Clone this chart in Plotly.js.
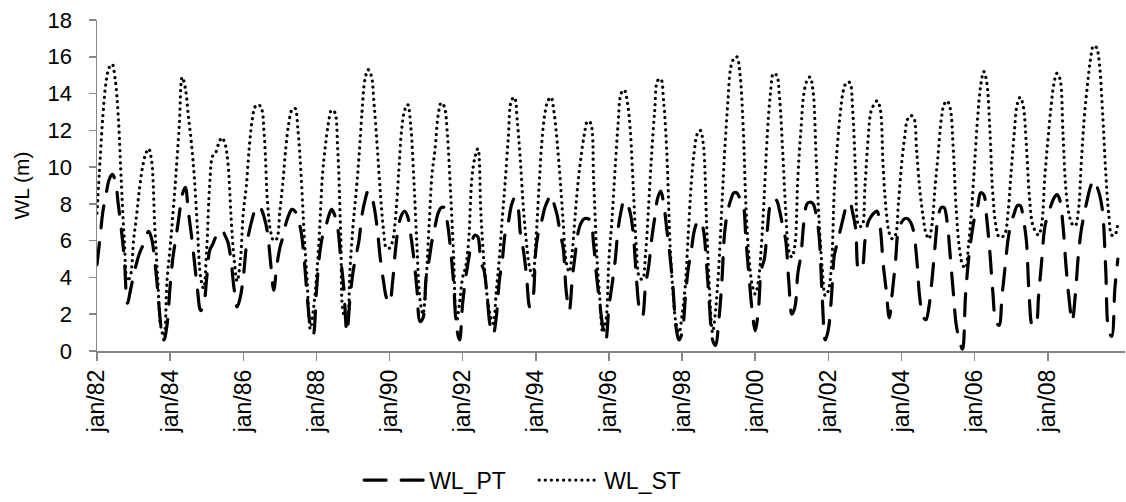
<!DOCTYPE html>
<html><head><meta charset="utf-8">
<script src="https://cdn.plot.ly/plotly-3.0.1.min.js"></script>
<style>
html,body{margin:0;padding:0;background:#fff;}
#chart{width:1126px;height:502px;}
.scatterlayer path.js-line, .legend path.js-line{stroke-linecap:round !important;}
</style>
</head><body><div id="chart"></div>
<script>
const startYear = 1982;
const tickYears = [1982,1984,1986,1988,1990,1992,1994,1996,1998,2000,2002,2004,2006,2008];
const tickLabels = ['jan/82','jan/84','jan/86','jan/88','jan/90','jan/92','jan/94','jan/96','jan/98','jan/00','jan/02','jan/04','jan/06','jan/08'];

// monthly values, Jan 1982 - Dec 2009 (one row per year)
const wlPT = [
4.7,6.2,7.6,8.5,9.3,9.6,9.3,8.0,6.6,5.0,2.6,3.3,
4.1,4.8,5.3,5.7,6.2,6.5,6.1,4.9,3.2,1.4,0.6,1.4,
3.5,5.2,6.2,7.4,8.5,8.9,7.6,6.3,4.8,3.3,2.2,2.5,
4.0,5.5,5.8,6.2,6.4,6.6,6.3,5.9,4.9,3.4,2.4,2.9,
4.0,5.7,6.5,7.2,7.7,7.9,7.7,7.2,6.4,4.8,3.3,4.6,
5.6,6.2,6.9,7.4,7.7,7.6,7.2,6.5,5.0,3.0,1.4,0.9,
3.2,5.2,6.2,6.7,7.3,7.7,7.4,6.7,5.0,3.4,1.0,2.8,
4.3,5.2,6.0,7.4,8.2,8.7,8.5,7.8,6.6,5.0,3.8,2.9,
2.6,3.8,5.5,6.8,7.4,7.6,7.3,6.3,5.0,3.4,1.6,1.8,
4.0,5.0,6.0,6.8,7.5,7.8,7.8,7.0,5.6,3.8,1.3,0.6,
2.6,4.0,5.0,5.9,6.3,6.2,4.8,4.4,3.0,1.4,0.9,1.8,
3.8,5.0,6.4,7.0,7.9,8.3,8.0,6.3,5.4,4.0,2.4,2.8,
5.5,6.6,7.1,7.8,8.2,8.5,8.0,7.4,6.4,5.6,3.2,2.2,
4.0,5.4,6.5,7.0,7.2,7.2,7.1,5.8,4.0,2.6,1.3,0.6,
2.4,3.6,4.8,6.6,7.6,8.2,8.0,7.5,6.3,4.0,2.3,1.9,
3.6,4.6,6.0,7.2,8.3,8.7,8.0,6.6,5.2,3.5,1.3,0.6,
1.0,2.8,4.4,5.4,6.5,7.0,7.1,6.6,4.8,2.5,0.6,0.3,
1.6,3.7,6.4,7.6,8.2,8.6,8.6,8.3,8.0,6.0,4.0,2.2,
1.1,2.2,4.4,5.0,6.6,8.0,8.3,8.2,7.6,6.8,6.0,3.8,
2.0,2.4,4.2,5.2,7.0,8.0,8.1,8.0,7.4,6.2,2.8,0.6,
1.2,3.0,5.2,5.9,6.6,7.3,7.9,8.1,7.5,6.6,4.4,4.5,
6.0,7.0,7.3,7.5,7.6,6.8,4.8,3.3,1.8,3.2,4.8,6.6,
7.0,7.2,7.2,7.0,6.5,5.0,2.9,1.9,1.7,2.4,3.9,5.7,
7.3,7.8,7.8,7.0,5.2,3.2,1.4,0.6,0.1,3.0,5.0,6.3,
7.3,7.9,8.6,8.5,7.2,5.4,3.2,1.6,1.4,3.0,4.6,6.1,
7.0,7.5,7.9,7.9,7.2,6.0,2.8,1.4,1.4,3.0,4.9,6.7,
7.4,7.9,8.3,8.5,8.2,6.8,4.6,2.8,1.6,3.0,5.2,6.6,
7.5,8.3,8.9,9.3,9.0,8.5,7.6,4.5,1.1,0.8,3.4,5.0
];
const wlST = [
7.5,10.4,12.8,14.6,15.4,15.6,14.8,12.8,9.2,6.0,3.8,4.1,
6.0,7.4,8.8,10.0,10.7,11.0,10.3,6.8,3.8,1.3,0.8,3.8,
5.6,7.6,9.7,12.2,14.9,14.3,12.8,11.3,9.3,6.6,4.0,3.4,
5.6,9.2,10.6,10.8,11.3,11.6,11.3,10.2,7.3,5.0,3.8,4.8,
7.5,9.0,11.0,12.6,13.3,13.4,13.2,11.5,8.0,6.5,6.0,6.1,
7.6,9.2,11.0,12.4,13.1,13.2,12.0,9.6,6.4,3.8,1.2,2.2,
3.9,6.5,9.5,11.2,12.4,13.1,13.0,11.0,6.2,2.0,1.8,4.4,
6.8,8.6,10.5,13.0,14.8,15.3,15.0,13.3,11.0,8.6,6.6,5.6,
5.6,6.0,7.2,9.6,12.0,13.1,13.4,12.2,9.3,5.8,2.8,2.0,
3.9,7.0,9.6,11.0,12.8,13.5,13.3,11.8,8.8,5.4,1.6,2.6,
4.0,4.6,6.0,9.3,10.5,11.0,7.5,4.8,3.0,2.0,1.5,3.2,
5.0,7.3,9.2,11.6,13.6,13.8,12.4,10.2,7.6,5.8,4.5,4.1,
6.0,8.9,11.3,12.9,13.6,13.8,13.0,11.4,9.3,7.0,4.8,4.3,
5.5,7.6,9.3,10.7,11.8,12.5,12.4,9.3,5.3,2.9,1.0,1.6,
5.0,7.2,9.8,12.3,14.0,14.2,13.6,12.0,8.8,5.6,4.0,3.9,
5.3,8.0,10.6,13.0,14.7,14.8,13.5,10.8,6.0,3.2,1.5,1.0,
2.0,3.5,6.2,9.0,10.8,11.8,12.0,11.2,7.1,3.4,1.0,2.2,
4.5,7.8,10.8,13.4,15.4,15.9,16.0,15.1,12.4,7.8,5.0,3.6,
3.1,3.8,5.6,8.6,11.8,14.0,15.1,15.0,13.7,10.9,7.6,5.5,
5.1,5.8,9.4,12.0,14.0,14.7,14.9,14.1,10.4,7.0,4.4,3.0,
3.3,4.7,8.8,11.2,13.0,14.2,14.6,14.6,13.0,9.5,6.8,6.8,
9.0,11.5,13.0,13.4,13.6,13.2,10.1,7.6,6.4,6.1,6.3,8.0,
10.1,11.6,12.6,12.8,12.7,10.8,8.8,7.4,6.4,6.1,6.9,8.9,
10.7,12.6,13.4,13.6,13.2,11.0,7.6,5.6,4.7,4.5,5.8,7.7,
10.3,12.8,14.4,15.2,14.6,12.1,8.5,6.8,6.2,6.2,6.4,7.6,
9.8,11.9,13.4,13.8,13.3,11.2,8.4,6.9,6.5,6.3,6.9,9.4,
11.4,13.2,14.5,15.1,14.8,11.8,8.7,7.4,6.9,6.8,7.6,10.3,
12.8,14.5,15.8,16.6,16.5,15.5,13.0,9.8,7.4,6.3,6.3,7.0
];

const months = wlPT.map((_, i) => {
  const y = startYear + Math.floor(i / 12);
  const m = (i % 12) + 1;
  return y + '-' + String(m).padStart(2, '0') + '-01';
});
const tickVals = tickYears.map(y => y + '-01-01');

const FONT = 'Liberation Sans, Arial, sans-serif';
const AX = '#868686';

const traces = [
  {x: months, y: wlPT, name: 'WL_PT', type: 'scatter', mode: 'lines',
   line: {color: '#000', width: 3.2, dash: '22px,15px', shape: 'spline', smoothing: 1}},
  {x: months, y: wlST, name: 'WL_ST', type: 'scatter', mode: 'lines',
   line: {color: '#000', width: 3.2, dash: '0.1px,6px', shape: 'spline', smoothing: 1}}
];

const layout = {
  width: 1126, height: 502,
  margin: {l: 97, r: 1, t: 20, b: 148},
  paper_bgcolor: '#fff', plot_bgcolor: '#fff',
  font: {family: FONT, size: 23, color: '#000'},
  showlegend: true,
  legend: {orientation: 'h', x: 0.255, xanchor: 'left', y: -0.39, yanchor: 'middle',
           font: {family: FONT, size: 23, color: '#000'}, itemwidth: 60,
           entrywidth: 100, entrywidthmode: 'pixels', bgcolor: 'rgba(0,0,0,0)'},
  xaxis: {
    type: 'date', range: ['1982-01-01', '2010-02-10'],
    tickmode: 'array', tickvals: tickVals, ticktext: tickLabels, tickangle: -90,
    ticks: 'outside', ticklen: 8, tickwidth: 1.5, tickcolor: AX,
    showline: true, linecolor: AX, linewidth: 1.5,
    showgrid: false, zeroline: false,
    tickfont: {family: FONT, size: 23, color: '#000'}
  },
  yaxis: {
    range: [0, 18], tickmode: 'linear', tick0: 0, dtick: 2,
    ticks: 'outside', ticklen: 7, tickwidth: 1.5, tickcolor: AX,
    showline: true, linecolor: AX, linewidth: 1.5,
    showgrid: false, zeroline: false, ticklabelstandoff: 12,
    tickfont: {family: FONT, size: 22, color: '#000'},
    title: {text: 'WL (m)', font: {family: FONT, size: 21, color: '#000'}, standoff: 12}
  }
};

Plotly.newPlot('chart', traces, layout, {displayModeBar: false, staticPlot: true});
</script>
</body></html>
